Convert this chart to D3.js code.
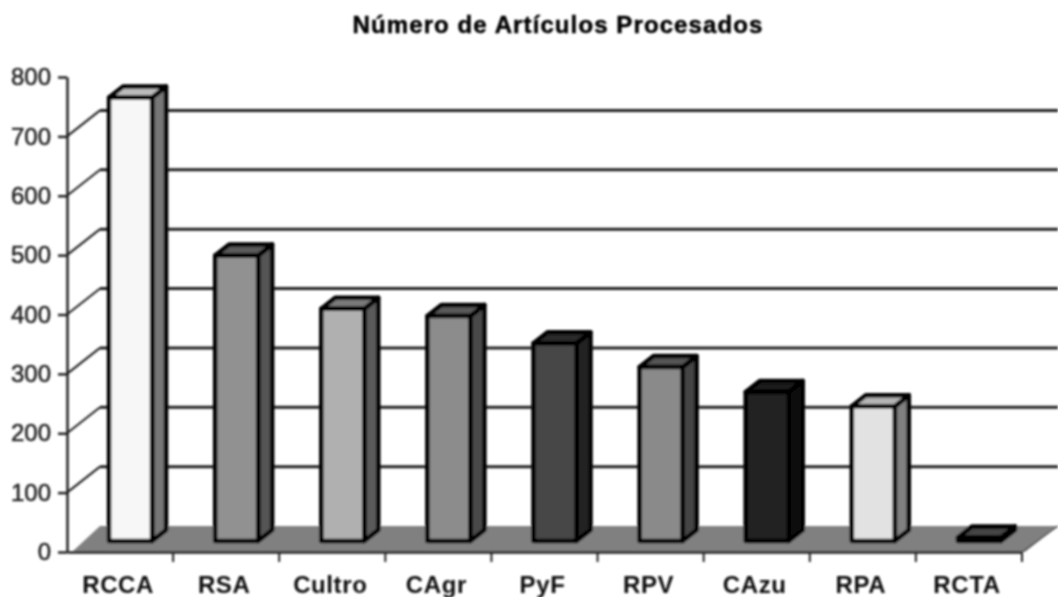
<!DOCTYPE html>
<html>
<head>
<meta charset="utf-8">
<script src="https://cdn.jsdelivr.net/npm/d3@7"></script>
<style>
  html, body { margin: 0; padding: 0; background: #fff; }
  text { font-family: "Liberation Sans", Arial, sans-serif; }
</style>
</head>
<body>
<div id="chart"></div>
<script>
// Data
const categories = ['RCCA', 'RSA', 'Cultro', 'CAgr', 'PyF', 'RPV', 'CAzu', 'RPA', 'RCTA'];
const articles = [747, 481, 391, 379, 333, 293, 251, 227, 6];
const yTicks = [0, 100, 200, 300, 400, 500, 600, 700, 800];

// Face colours per bar
const frontColors = ['#f7f7f7', '#919191', '#b0b0b0', '#8c8c8c', '#464646', '#8a8a8a', '#222222', '#e2e2e2', '#333333'];
const sideColors = ['#777777', '#555555', '#5a5a5a', '#4a4a4a', '#222222', '#444444', '#111111', '#808080', '#1a1a1a'];
const topColors = ['#bbbbbb', '#5a5a5a', '#7a7a7a', '#5a5a5a', '#2a2a2a', '#555555', '#1a1a1a', '#b4b4b4', '#444444'];

const width = 1058, height = 597;
const margin = { top: 77, right: 36, bottom: 45, left: 67 };

// Fake 3D offsets: wall behind the front plane, and the bars' own depth
const wall = { dx: 33, dy: 26 };
const bar = { dx: 14, dy: 11, shiftX: 10.5, shiftY: 11, width: 43 };

const svg = d3.select('#chart').append('svg')
    .attr('width', width)
    .attr('height', height)
    .style('display', 'block');

svg.append('defs').append('filter')
    .attr('id', 'soft')
    .append('feGaussianBlur')
    .attr('stdDeviation', 1.2);

const root = svg.append('g').attr('filter', 'url(#soft)');

const x = d3.scaleBand()
    .domain(categories)
    .range([margin.left, width - margin.right]);

const y = d3.scaleLinear()
    .domain([0, 800])
    .range([height - margin.bottom, margin.top]);

// Floor
const floorY = y(0);
root.append('polygon')
    .attr('points', [
        [margin.left + 5, floorY],
        [margin.left + wall.dx, floorY - wall.dy],
        [width, floorY - wall.dy],
        [x.range()[1] + 3, floorY]
    ].join(' '))
    .attr('fill', '#808080');

// Back wall gridlines
root.append('g')
    .selectAll('line')
    .data(yTicks.slice(1, -1))
    .join('line')
    .attr('x1', margin.left + wall.dx)
    .attr('x2', width)
    .attr('y1', d => y(d) - wall.dy)
    .attr('y2', d => y(d) - wall.dy)
    .attr('stroke', '#222')
    .attr('stroke-width', 3);

// Slanted lines joining the axis to the wall
root.append('g')
    .selectAll('line')
    .data(yTicks.slice(1, -1))
    .join('line')
    .attr('x1', margin.left)
    .attr('x2', margin.left + wall.dx)
    .attr('y1', d => y(d))
    .attr('y2', d => y(d) - wall.dy)
    .attr('stroke', '#222')
    .attr('stroke-width', 2);

// Floor right edge
root.append('line')
    .attr('x1', x.range()[1])
    .attr('x2', width)
    .attr('y1', floorY)
    .attr('y2', floorY - wall.dy)
    .attr('stroke', '#555')
    .attr('stroke-width', 1.5);

// Bars
const bars = root.append('g')
    .selectAll('g')
    .data(categories.map((name, i) => ({ name, value: articles[i], i })))
    .join('g')
    .attr('stroke', '#000')
    .attr('stroke-width', 4.5)
    .attr('stroke-linejoin', 'round');

const barLeft = d => x(d.name) + x.bandwidth() / 2 + bar.shiftX - bar.width / 2;
const barRight = d => barLeft(d) + bar.width;
const barBase = () => y(0) - bar.shiftY;
const barTop = d => y(d.value) - bar.shiftY;

bars.append('polygon')
    .attr('fill', d => sideColors[d.i])
    .attr('points', d => [
        [barRight(d), barTop(d)],
        [barRight(d) + bar.dx, barTop(d) - bar.dy],
        [barRight(d) + bar.dx, barBase() - bar.dy],
        [barRight(d), barBase()]
    ].join(' '));

bars.append('polygon')
    .attr('fill', d => topColors[d.i])
    .attr('points', d => [
        [barLeft(d), barTop(d)],
        [barLeft(d) + bar.dx, barTop(d) - bar.dy],
        [barRight(d) + bar.dx, barTop(d) - bar.dy],
        [barRight(d), barTop(d)]
    ].join(' '));

bars.append('rect')
    .attr('fill', d => frontColors[d.i])
    .attr('x', barLeft)
    .attr('y', barTop)
    .attr('width', bar.width)
    .attr('height', d => barBase() - barTop(d));

// Axes
const yAxis = root.append('g')
    .attr('transform', `translate(${margin.left},0)`)
    .call(d3.axisLeft(y).tickValues(yTicks).tickSize(9).tickSizeOuter(0).tickPadding(7));

const xAxis = root.append('g')
    .attr('transform', `translate(0,${floorY})`)
    .call(d3.axisBottom(x).tickSize(0).tickPadding(24));

// Band-edge tick marks, the axis puts its own at the centres
xAxis.append('g')
    .selectAll('line')
    .data(categories)
    .join('line')
    .attr('x1', d => x(d) + x.bandwidth())
    .attr('x2', d => x(d) + x.bandwidth())
    .attr('y1', 0)
    .attr('y2', 10)
    .attr('stroke', '#222')
    .attr('stroke-width', 2);

yAxis.selectAll('.domain, line').attr('stroke', '#222').attr('stroke-width', 2.5);
xAxis.select('.domain').attr('stroke', '#222').attr('stroke-width', 2.5);

yAxis.selectAll('text')
    .attr('fill', '#222')
    .attr('stroke', '#222')
    .attr('stroke-width', 0.5)
    .style('font-size', '24px');

xAxis.selectAll('.tick text')
    .attr('fill', '#111')
    .attr('dx', -2)
    .style('font-size', '24px')
    .style('letter-spacing', '0.6px')
    .style('font-weight', 'bold');

// Title
root.append('text')
    .attr('x', 558)
    .attr('y', 33)
    .attr('text-anchor', 'middle')
    .attr('fill', '#000')
    .attr('stroke', '#000')
    .attr('stroke-width', 0.5)
    .style('font-size', '24px')
    .style('letter-spacing', '1.1px')
    .style('font-weight', 'bold')
    .text('Número de Artículos Procesados');
</script>
</body>
</html>
